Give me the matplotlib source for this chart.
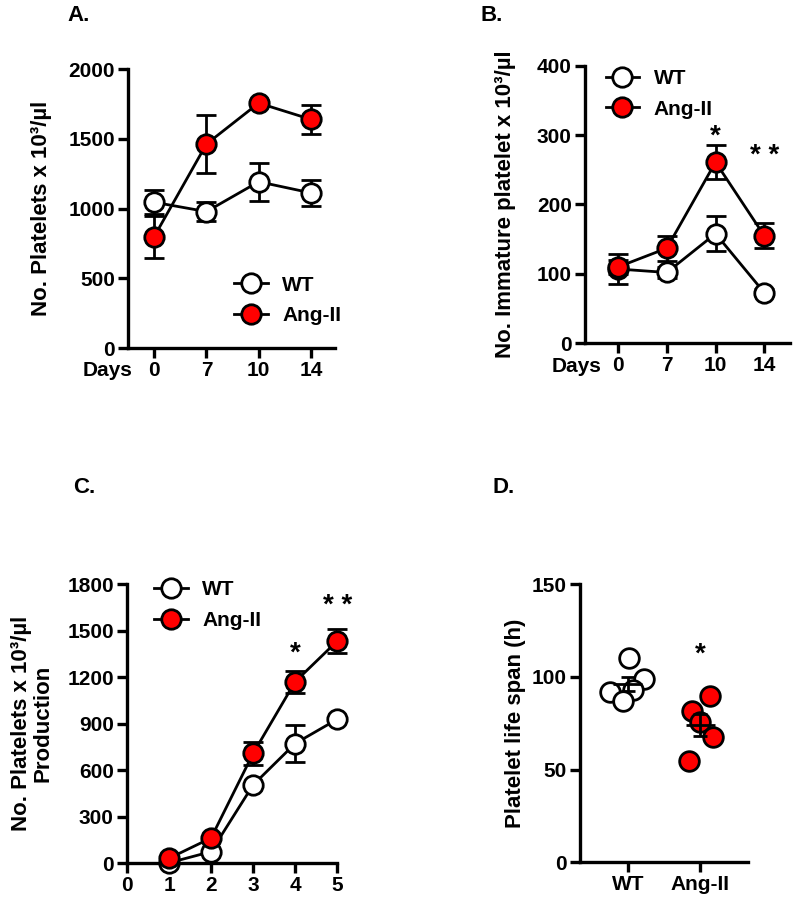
import matplotlib
matplotlib.use("Agg")
from matplotlib import pyplot as plt
import numpy as np

plt.rcParams['font.family'] = ['Liberation Sans', 'DejaVu Sans']
plt.rcParams['font.weight'] = 'bold'
plt.rcParams['axes.labelweight'] = 'bold'

RED = '#ff0000'

# panel A - platelet counts
days = ['0', '7', '10', '14']
a_wt = [1045, 978, 1192, 1112]
a_wt_err = [85, 70, 135, 93]
a_ang = [798, 1462, 1756, 1639]
a_ang_err = [150, 210, 20, 105]

# panel B - immature platelets
b_wt = [107, 102, 158, 73]
b_wt_err = [22, 8, 25, 5]
b_ang = [110, 137, 261, 155]
b_ang_err = [10, 18, 24, 18]

# panel C - production
c_x = [1, 2, 3, 4, 5]
c_wt = [3, 75, 505, 772, 928]
c_wt_err = [5, 10, 10, 120, 10]
c_ang = [32, 163, 708, 1170, 1432]
c_ang_err = [8, 12, 75, 72, 78]

# panel D - life span
d_groups = ['WT', 'Ang-II']
d_wt = [110, 99, 92, 93, 87]
d_wt_jit = [0.01, 0.23, -0.24, 0.07, -0.07]
d_ang = [89.6, 81.7, 75.4, 67.7, 54.8]
d_ang_jit = [0.13, -0.12, 0.0, 0.17, -0.15]


def style_axes(ax):
    for s in ['top', 'right']:
        ax.spines[s].set_visible(False)
    for s in ['left', 'bottom']:
        ax.spines[s].set_linewidth(2.4)
    ax.tick_params(width=2.4, length=7, labelsize=15, pad=2.5)
    for lab in ax.get_xticklabels() + ax.get_yticklabels():
        lab.set_fontweight('bold')


def plot_series(ax, x, wt, wt_err, ang, ang_err):
    ax.errorbar(x, wt, yerr=wt_err, fmt='none', ecolor='black', elinewidth=2,
                capsize=7, capthick=2, zorder=2)
    l1, = ax.plot(x, wt, '-o', color='black', lw=2, ms=14, mfc='white',
                  mec='black', mew=2, label='WT', zorder=3)
    ax.errorbar(x, ang, yerr=ang_err, fmt='none', ecolor='black', elinewidth=2,
                capsize=7, capthick=2, zorder=4)
    l2, = ax.plot(x, ang, '-o', color='black', lw=2, ms=14, mfc=RED,
                  mec='black', mew=2, label='Ang-II', zorder=5)
    return [l1, l2]


def legend(ax, handles, **kw):
    leg = ax.legend(handles=handles, frameon=False, borderpad=0, fontsize=15,
                    handlelength=1.6, handletextpad=0.7, labelspacing=0.55, **kw)
    for t in leg.get_texts():
        t.set_fontweight('bold')


fig = plt.figure(figsize=(7.99, 9.0), dpi=100)

# A
axA = fig.add_axes([0.1602, 0.6133, 0.2591, 0.31])
pos = np.arange(1, 5)
h = plot_series(axA, pos, a_wt, a_wt_err, a_ang, a_ang_err)
axA.set_xlim(0.5, 4.46)
axA.set_ylim(0, 2000)
axA.set_yticks([0, 500, 1000, 1500, 2000])
axA.set_xticks(pos)
axA.set_xticklabels(days)
axA.set_ylabel('No. Platelets x 10³/µl', fontsize=16, labelpad=12)
style_axes(axA)
axA.text(0.02, -0.048, 'Days', transform=axA.transAxes, ha='right', va='top',
         fontsize=15, fontweight='bold')
legend(axA, h, loc='lower right', bbox_to_anchor=(1.08, 0.045))

# B
axB = fig.add_axes([0.7322, 0.6186, 0.2566, 0.3084])
h = plot_series(axB, pos, b_wt, b_wt_err, b_ang, b_ang_err)
axB.set_xlim(0.32, 4.53)
axB.set_ylim(0, 400)
axB.set_yticks([0, 100, 200, 300, 400])
axB.set_xticks(pos)
axB.set_xticklabels(days)
axB.set_ylabel('No. Immature platelet x 10³/µl', fontsize=16, labelpad=15)
style_axes(axB)
axB.text(0.08, -0.048, 'Days', transform=axB.transAxes, ha='right', va='top',
         fontsize=15, fontweight='bold')
legend(axB, h, loc='upper left', bbox_to_anchor=(0.05, 1.025))
axB.text(3, 298, '*', ha='center', va='center', fontsize=20)
axB.text(4, 270, '* *', ha='center', va='center', fontsize=20)

# C
axC = fig.add_axes([0.159, 0.0408, 0.263, 0.3103])
h = plot_series(axC, c_x, c_wt, c_wt_err, c_ang, c_ang_err)
axC.set_xlim(0, 5)
axC.set_ylim(0, 1800)
axC.set_yticks(range(0, 1801, 300))
axC.set_xticks(range(0, 6))
axC.set_ylabel('No. Platelets x 10³/µl\nProduction', fontsize=16, labelpad=10,
               linespacing=1.05)
style_axes(axC)
legend(axC, h, loc='upper left', bbox_to_anchor=(0.08, 1.05))
axC.text(4, 1350, '*', ha='center', va='center', fontsize=20)
axC.text(5, 1660, '* *', ha='center', va='center', fontsize=20)
for ln in axC.lines:
    ln.set_clip_on(False)

# D
axD = fig.add_axes([0.7259, 0.0419, 0.2103, 0.3092])
axD.scatter(np.array(d_wt_jit), d_wt, s=200, facecolor='white',
            edgecolor='black', linewidth=2, zorder=3)
axD.scatter(1 + np.array(d_ang_jit), d_ang, s=200, facecolor=RED,
            edgecolor='black', linewidth=2, zorder=3)
for i, vals in enumerate([d_wt, d_ang]):
    m = np.mean(vals)
    sem = np.std(vals, ddof=1) / np.sqrt(len(vals))
    axD.hlines(m, i - 0.2, i + 0.2, color='black', lw=2, zorder=4)
    axD.hlines([m - sem, m + sem], i - 0.1, i + 0.1, color='black', lw=2, zorder=4)
    axD.vlines(i, m - sem, m + sem, color='black', lw=2, zorder=4)
axD.set_xlim(-0.66, 1.66)
axD.set_ylim(0, 150)
axD.set_yticks([0, 50, 100, 150])
axD.set_xticks([0, 1])
axD.set_xticklabels(d_groups)
axD.set_ylabel('Platelet life span (h)', fontsize=16, labelpad=4)
style_axes(axD)
axD.text(1, 112, '*', ha='center', va='center', fontsize=20)

for lbl, x, y in [('A.', 0.099, 0.983), ('B.', 0.616, 0.983),
                  ('C.', 0.106, 0.458), ('D.', 0.630, 0.458)]:
    fig.text(x, y, lbl, ha='center', va='center', fontsize=16, fontweight='bold')

fig.savefig('out.png', dpi=100)
